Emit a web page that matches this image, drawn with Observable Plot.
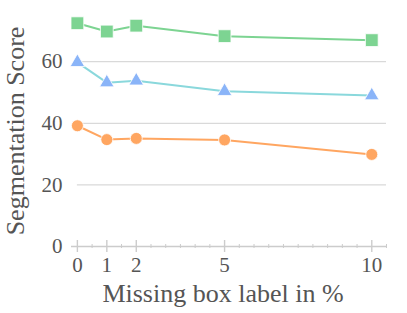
<!DOCTYPE html>
<html><head><meta charset="utf-8">
<script src="https://cdn.jsdelivr.net/npm/d3@7"></script>
<script src="https://cdn.jsdelivr.net/npm/@observablehq/plot@0.6"></script>
<style>body{margin:0;background:#fff}</style>
</head><body><div id="chart"></div>
<script>
const missing = [0, 1, 2, 5, 10];
const seriesA = [72.5, 69.8, 71.7, 68.3, 67.0]; // green squares
const seriesB = [59.8, 53.2, 53.8, 50.4, 49.0]; // blue triangles
const seriesC = [39.2, 34.7, 35.1, 34.6, 29.9]; // orange circles
const yTicks = [0, 20, 40, 60];
const xTicks = [0, 1, 2, 5, 10];
const xMinor = d3.range(0, 10.51, 0.5).filter(v => !xTicks.includes(v));
const yLabel = "Segmentation Score";
const xLabel = "Missing box label in %";

const rows = (vals) => missing.map((m, i) => ({x: m, y: vals[i]}));
const A = rows(seriesA), B = rows(seriesB), C = rows(seriesC);
const font = "'Liberation Serif', 'Times New Roman', serif";

const chart = Plot.plot({
  width: 407, height: 313,
  marginLeft: 71, marginRight: 21, marginTop: 15, marginBottom: 67,
  style: {fontFamily: font, background: "#fff"},
  x: {domain: [-0.2, 10.5]},
  y: {domain: [0, 75]},
  marks: [
    Plot.ruleY([20, 40, 60], {x1: 0, x2: 10.5, stroke: "#d9d9d9", strokeWidth: 1.2}),
    Plot.ruleY([0], {stroke: "#cccccc", strokeWidth: 1.4}),
    Plot.axisX({ticks: xTicks, tickSize: 12, dy: -6, text: null, stroke: "#cccccc", strokeWidth: 1.4, label: null}),
    Plot.axisX({ticks: xMinor, tickSize: 4, dy: -2, text: null, stroke: "#cccccc", strokeWidth: 1, label: null}),
    Plot.axisX({ticks: xTicks, tickSize: 0, tickPadding: 11, fontSize: 21, fontFamily: font, fill: "#555", label: null}),
    Plot.axisY({ticks: yTicks, tickSize: 0, tickPadding: 9, fontSize: 21, fontFamily: font, fill: "#555", label: null}),
    Plot.text([yLabel], {frameAnchor: "left", dx: -56, rotate: -90, fontSize: 26, fontFamily: font, fill: "#555", textAnchor: "middle", lineAnchor: "middle"}),
    Plot.text([xLabel], {frameAnchor: "bottom", dx: -6, dy: 47, fontSize: 26, fontFamily: font, fill: "#555", textAnchor: "middle", lineAnchor: "middle"}),
    Plot.line(A, {x: "x", y: "y", stroke: "#7dd492", strokeWidth: 2}),
    Plot.line(B, {x: "x", y: "y", stroke: "#8ad8dc", strokeWidth: 2}),
    Plot.line(C, {x: "x", y: "y", stroke: "#ffa661", strokeWidth: 2}),
    Plot.dot(A, {x: "x", y: "y", symbol: "square", r: 7.2, fill: "#7dd492", stroke: "#fff", strokeWidth: 0.8}),
    Plot.dot(B, {x: "x", y: "y", symbol: "triangle", r: 5.4, fill: "#8ab4f8", stroke: "#fff", strokeWidth: 0.8}),
    Plot.dot(C, {x: "x", y: "y", symbol: "circle", r: 6, fill: "#ffa661", stroke: "#fff", strokeWidth: 0.8})
  ]
});
document.getElementById("chart").appendChild(chart);
</script>
</body></html>
